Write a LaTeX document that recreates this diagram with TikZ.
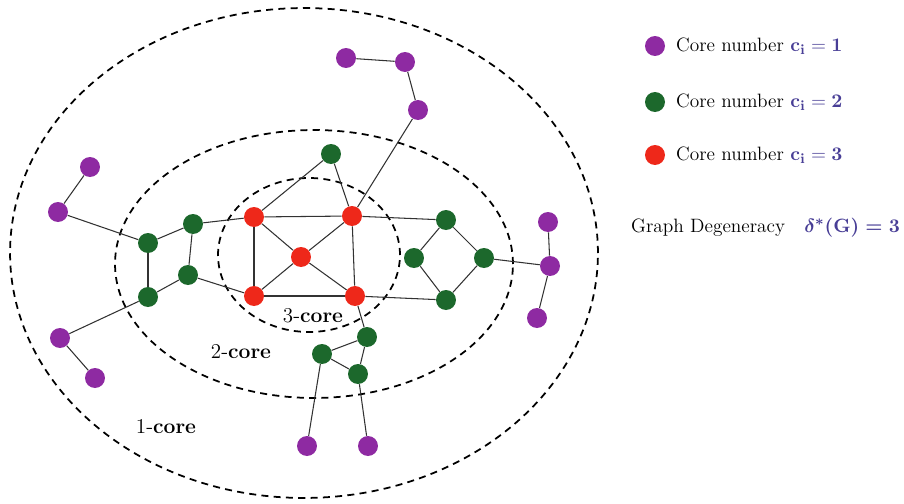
\documentclass[tikz,border=0pt]{standalone}
\usepackage{amsmath,amssymb}
\usepackage{tikz}
\usepackage{xcolor}
\definecolor{corepurple}{RGB}{142,42,162}
\definecolor{coregreen}{RGB}{28,104,44}
\definecolor{corered}{RGB}{238,40,26}
\definecolor{legendblue}{RGB}{72,62,150}
\definecolor{edgegray}{RGB}{50,50,50}

\begin{document}
\begin{tikzpicture}
    [
        x=0.02cm, y=-0.02cm,
        vtx/.style={circle, inner sep=0pt, minimum size=0.4cm},
        one/.style={vtx, fill=corepurple},
        two/.style={vtx, fill=coregreen},
        three/.style={vtx, fill=corered},
        shell/.style={draw=black, line width=1pt, dash pattern=on 4pt off 3pt},
        edge/.style={draw=edgegray, line width=0.6pt},
        lbl/.style={font=\large},
        key/.style={anchor=west, font=\fontsize{11}{13}\selectfont},
    ]
\useasboundingbox (0,0) rectangle (904,504);

% core shells
\draw[shell] (304,253) ellipse [x radius=5.88cm, y radius=4.9cm];
\draw[shell] (314,264) ellipse [x radius=3.98cm, y radius=2.68cm];
\draw[shell] (309,255) ellipse [x radius=1.82cm, y radius=1.54cm];

\node[lbl] (l3) at (313,316) {3-\textbf{core}};
\node[lbl] (l2) at (241,352) {2-\textbf{core}};
\node[lbl] (l1) at (166,427) {1-\textbf{core}};

% vertices with core number 1
\foreach \n/\x/\y in {p1/346/58, p2/405/62, p3/418/110, p4/90/167,
    p5/58/212, p6/548/222, p7/550/266, p8/537/318, p9/60/338,
    p10/95/378, p11/307/446, p12/368/446}
    \node[one] (\n) at (\x,\y) {};

% vertices with core number 2
\foreach \n/\x/\y in {g1/331/154, g2/148/243, g3/193/224, g4/188/275,
    g5/148/297, g6/446/220, g7/414/258, g8/484/258, g9/446/300,
    g10/367/337, g11/322/354, g12/358/374}
    \node[two] (\n) at (\x,\y) {};

% vertices with core number 3
\foreach \n/\x/\y in {r1/254/217, r2/352/216, r3/301/257, r4/254/296, r5/355/296}
    \node[three] (\n) at (\x,\y) {};

% edges
\foreach \a/\b in {p1/p2, p2/p3, p3/r2, p4/p5, p5/g2, g2/g3, g3/r1,
    g2/g5, g3/g4, g4/g5, g4/r4, g5/p9, p9/p10,
    r1/g1, g1/r2, r1/r2, r1/r3, r1/r4, r2/r3, r2/r5, r3/r4, r3/r5, r4/r5,
    r2/g6, g6/g7, g6/g8, g7/g9, g8/g9, r5/g9, g8/p7, p6/p7, p7/p8,
    r5/g10, g10/g11, g10/g12, g11/g12, g11/p11, g12/p12}
    \draw[edge] (\a) -- (\b);

% legend
\node[one] (k1) at (655,46) {};
\node[two] (k2) at (655,102) {};
\node[three] (k3) at (655,155) {};
\node[key] (t1) at (670,46) {Core number \textcolor{legendblue}{$\mathbf{c_i = 1}$}};
\node[key] (t2) at (670,102) {Core number \textcolor{legendblue}{$\mathbf{c_i = 2}$}};
\node[key] (t3) at (670,155) {Core number \textcolor{legendblue}{$\mathbf{c_i = 3}$}};
\node[key] (deg) at (625,228) {Graph Degeneracy\quad \textcolor{legendblue}{$\boldsymbol{\delta^*(\mathbf{G}) = 3}$}};
\end{tikzpicture}
\end{document}
